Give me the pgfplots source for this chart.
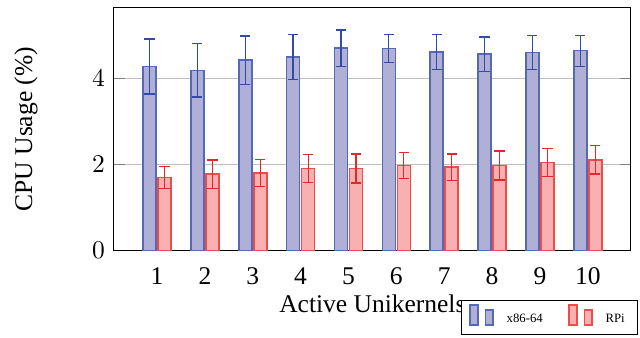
\documentclass[border=0pt]{standalone}
\usepackage{fontspec}
\setmainfont{Liberation Serif}
\usepackage{pgfplots}
\usepackage{pgfplotstable}
\pgfplotsset{compat=1.18}
\definecolor{bfill}{RGB}{176,176,214}
\definecolor{bdraw}{RGB}{85,105,185}
\definecolor{berr}{RGB}{50,75,165}
\definecolor{rfill}{RGB}{248,176,176}
\definecolor{rdraw}{RGB}{238,75,75}
\definecolor{rerr}{RGB}{228,40,40}
\pgfplotstableread{
x y e
1 4.28 0.64
2 4.19 0.62
3 4.43 0.56
4 4.50 0.52
5 4.71 0.42
6 4.70 0.33
7 4.62 0.40
8 4.57 0.40
9 4.61 0.39
10 4.65 0.36
}\xtable
\pgfplotstableread{
x y e
1 1.70 0.26
2 1.78 0.33
3 1.81 0.31
4 1.91 0.33
5 1.91 0.34
6 1.98 0.31
7 1.94 0.31
8 1.98 0.34
9 2.05 0.33
10 2.11 0.33
}\rtable
\begin{document}
\begin{tikzpicture}
\begin{axis}[
  scale only axis, width=202.7pt, height=95.3pt,
  ybar=0.8pt, bar width=5.1pt,
  xmin=0.1, xmax=10.9, ymin=0, ymax=5.65,
  xtick={1,2,3,4,5,6,7,8,9,10},
  xticklabels={1,2,3,4,5,6,7,8,9,10},
  xticklabel style={yshift=1pt},
  ytick={0,2,4},
  ymajorgrids, grid style={gray!50, line width=0.4pt},
  major x tick style={draw=none},
  ylabel={CPU Usage (\%)}, xlabel={Active Unikernels},
  ylabel style={at={(axis description cs:-0.170,0.5)}, anchor=center},
  xlabel style={at={(axis description cs:0.5,-0.218)}, anchor=center},
  legend style={at={(axis description cs:1.0138,-0.205)}, anchor=north east, font=\tiny,
    legend columns=2, draw=black, line width=0.4pt, inner ysep=1.2pt,
    /tikz/every odd column/.append style={column sep=3pt},
    /tikz/every even column/.append style={column sep=8pt}},
  legend cell align=left,
]
\addplot+[draw=bdraw, fill=bfill, line width=0.6pt,
  error bars/.cd, y dir=both, y explicit, error mark=-,
  error bar style={draw=berr, line width=0.5pt},
  error mark options={rotate=90, draw=berr, line width=0.5pt, mark size=2pt}]
  table[x=x, y=y, y error=e]{\xtable};
\addplot+[draw=rdraw, fill=rfill, line width=0.6pt,
  error bars/.cd, y dir=both, y explicit, error mark=-,
  error bar style={draw=rerr, line width=0.5pt},
  error mark options={rotate=90, draw=rerr, line width=0.5pt, mark size=2pt}]
  table[x=x, y=y, y error=e]{\rtable};
\legend{x86-64, RPi}
\end{axis}
\pgfresetboundingbox
\path[use as bounding box] (current axis.south west) ++(-44.7pt,-33.9pt) rectangle ++(251pt,132.2pt);
\end{tikzpicture}
\end{document}
